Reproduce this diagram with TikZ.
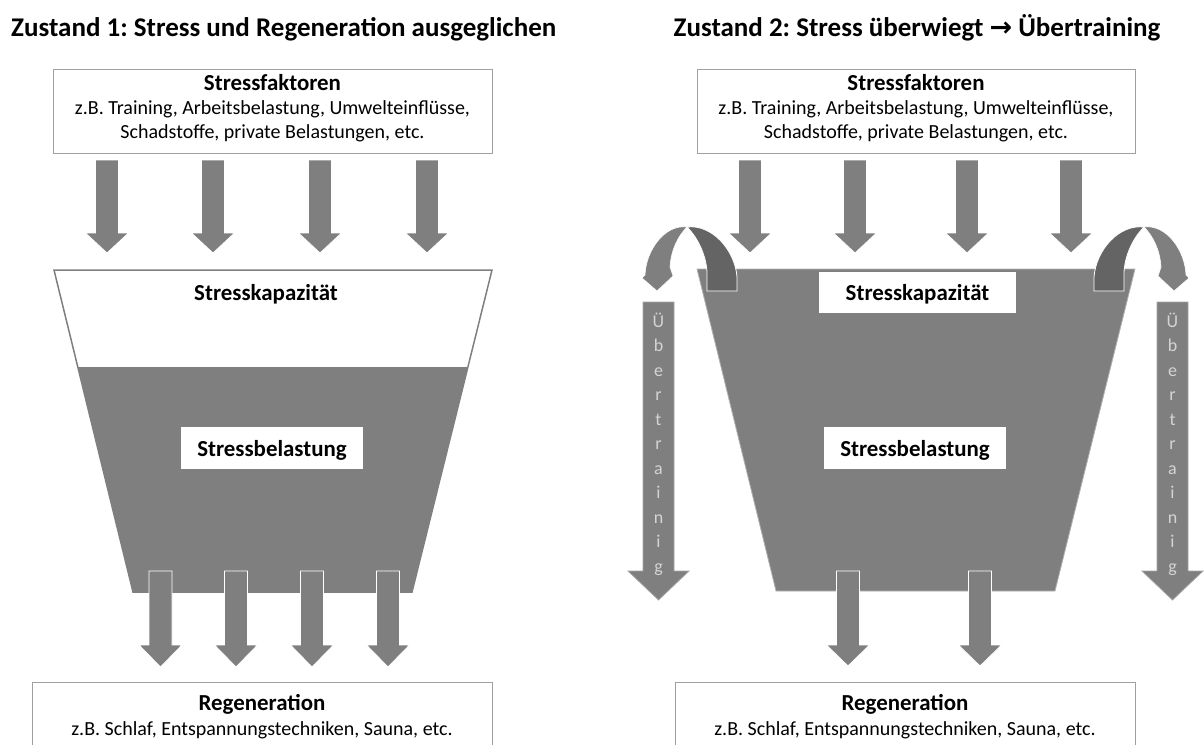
\documentclass[tikz,border=0pt]{standalone}
\usepackage{fontspec}
\setmainfont{Carlito}
\newfontfamily\symfont{DejaVu Sans}
\frenchspacing
\definecolor{fillgray}{HTML}{7F7F7F}
\definecolor{darkband}{HTML}{646464}
\definecolor{boxline}{HTML}{A0A0A0}
\definecolor{lettergray}{HTML}{D4D4D4}
\newcommand\BlockDown[5]{% name, x, top, headbase, tip ; shaft half 11.5, head half 21.5
  \filldraw[blockfill] (#2-11.5,#3) -- (#2+11.5,#3) -- (#2+11.5,#4) -- (#2+21.5,#4) -- (#2,#5) -- (#2-21.5,#4) -- (#2-11.5,#4) -- cycle;
  \coordinate (#1) at (#2,#5);}
\newcommand\FlipArrow{%
  \filldraw[fill=darkband, draw=white, line width=0.8pt]
    (707,291) -- (707,272) .. controls (706,255) and (698,238) .. (687,227)
    .. controls (712,224) and (735,250) .. (737,277) -- (737,291) -- cycle;
  \filldraw[fill=fillgray, draw=white, line width=0.6pt]
    (687,227) .. controls (665,224) and (646,250) .. (645,275) -- (642,278) -- (657,291) -- (673,276) -- (670,267)
    .. controls (671,250) and (678,236) .. (687,227) -- cycle;}
\begin{document}
\begin{tikzpicture}[x=1pt,y=-1pt,
  titlefont/.style={font=\fontsize{27}{32}\selectfont\bfseries},
  headfont/.style={font=\fontsize{22.9}{27}\selectfont\bfseries},
  bodyfont/.style={font=\fontsize{20}{24}\selectfont},
  infobox/.style={draw=boxline, line width=1.3pt, fill=white, inner sep=0pt},
  blockfill/.style={fill=fillgray, draw=white, line width=0.8pt},
  labelbox/.style={fill=white, inner sep=0pt},
  txt/.style={inner sep=0pt, anchor=base},
  uebertxt/.style={inner sep=0pt, align=center, text=lettergray, font=\fontsize{18}{24.5}\selectfont}
]
\path[use as bounding box] (0,0) rectangle (1204,744);
\clip (0,0) rectangle (1204,744);

% ---------------- titles
\node[txt, titlefont, anchor=base west] (t1) at (11,36) {Zustand 1: Stress und Regeneration ausgeglichen};
\node[txt, titlefont] (t2) at (917,36) {Zustand 2: Stress überwiegt {\symfont →} Übertraining};

% ================= panel 1
\node[infobox, minimum width=439, minimum height=84, anchor=north west] (sf1) at (53,69) {};
\node[txt, headfont] (sf1h) at (272.5,90) {Stressfaktoren};
\node[txt, bodyfont] (sf1a) at (272.5,114) {z.B. Training, Arbeitsbelastung, Umwelteinflüsse,};
\node[txt, bodyfont] (sf1b) at (272.5,138) {Schadstoffe, private Belastungen, etc.};

\BlockDown{a11}{107}{160}{233}{253}
\BlockDown{a12}{213}{160}{233}{253}
\BlockDown{a13}{320}{160}{233}{253}
\BlockDown{a14}{427}{160}{233}{253}

% bucket
\fill[fillgray] (77.8,367) -- (467.9,367) -- (412,592) -- (133,592) -- cycle;
\draw[fillgray, line width=1.5pt] (54,270) -- (492,270) -- (412,592) -- (133,592) -- cycle;
\node[txt, headfont] (sk1) at (266,300) {Stresskapazität};
\node[labelbox, minimum width=182, minimum height=42] (sb1box) at (272,448) {};
\node[txt, headfont] (sb1) at (272,456) {Stressbelastung};

\BlockDown{b11}{160.5}{571}{645}{667}
\BlockDown{b12}{236}{571}{645}{667}
\BlockDown{b13}{312}{571}{645}{667}
\BlockDown{b14}{388}{571}{645}{667}

\node[infobox, minimum width=460, minimum height=90, anchor=north west] (rg1) at (32,682) {};
\node[txt, headfont] (rg1h) at (262,710) {Regeneration};
\node[txt, bodyfont] (rg1a) at (262,735) {z.B. Schlaf, Entspannungstechniken, Sauna, etc.};

% ================= panel 2
\node[infobox, minimum width=438, minimum height=84, anchor=north west] (sf2) at (697,69) {};
\node[txt, headfont] (sf2h) at (916,90) {Stressfaktoren};
\node[txt, bodyfont] (sf2a) at (916,114) {z.B. Training, Arbeitsbelastung, Umwelteinflüsse,};
\node[txt, bodyfont] (sf2b) at (916,138) {Schadstoffe, private Belastungen, etc.};

\BlockDown{a21}{750}{160}{233}{253}
\BlockDown{a22}{855}{160}{233}{253}
\BlockDown{a23}{967}{160}{233}{253}
\BlockDown{a24}{1071}{160}{233}{253}

% full bucket
\filldraw[fill=fillgray, draw=fillgray!60!white, line width=0.8pt] (697,269) -- (1135,269) -- (1055,591) -- (776,591) -- cycle;
\node[labelbox, minimum width=197, minimum height=41] (sk2box) at (917.5,292.5) {};
\node[txt, headfont] (sk2) at (917.5,300) {Stresskapazität};
\node[labelbox, minimum width=182, minimum height=42] (sb2box) at (915,448) {};
\node[txt, headfont] (sb2) at (915,456) {Stressbelastung};

\BlockDown{b21}{848}{571}{645}{666}
\BlockDown{b22}{980}{571}{645}{666}

\node[infobox, minimum width=460, minimum height=90, anchor=north west] (rg2) at (675,682) {};
\node[txt, headfont] (rg2h) at (905,710) {Regeneration};
\node[txt, bodyfont] (rg2a) at (905,735) {z.B. Schlaf, Entspannungstechniken, Sauna, etc.};

% overflow arrows
\FlipArrow
\begin{scope}[xshift=1831pt, xscale=-1]
  \FlipArrow
\end{scope}

% Übertraining arrows
\filldraw[fill=fillgray, draw=fillgray!70!white, line width=0.8pt]
  (643,302) -- (674,302) -- (674,571) -- (689,571) -- (658.5,600) -- (628,571) -- (643,571) -- cycle;
\filldraw[fill=fillgray, draw=fillgray!70!white, line width=0.8pt]
  (1157,302) -- (1188,302) -- (1188,571) -- (1203,571) -- (1172.5,600) -- (1142,571) -- (1157,571) -- cycle;
\node[uebertxt] (ue1) at (658.5,444) {Ü\\b\\e\\r\\t\\r\\a\\i\\n\\i\\g};
\node[uebertxt] (ue2) at (1172.5,444) {Ü\\b\\e\\r\\t\\r\\a\\i\\n\\i\\g};
\end{tikzpicture}
\end{document}
